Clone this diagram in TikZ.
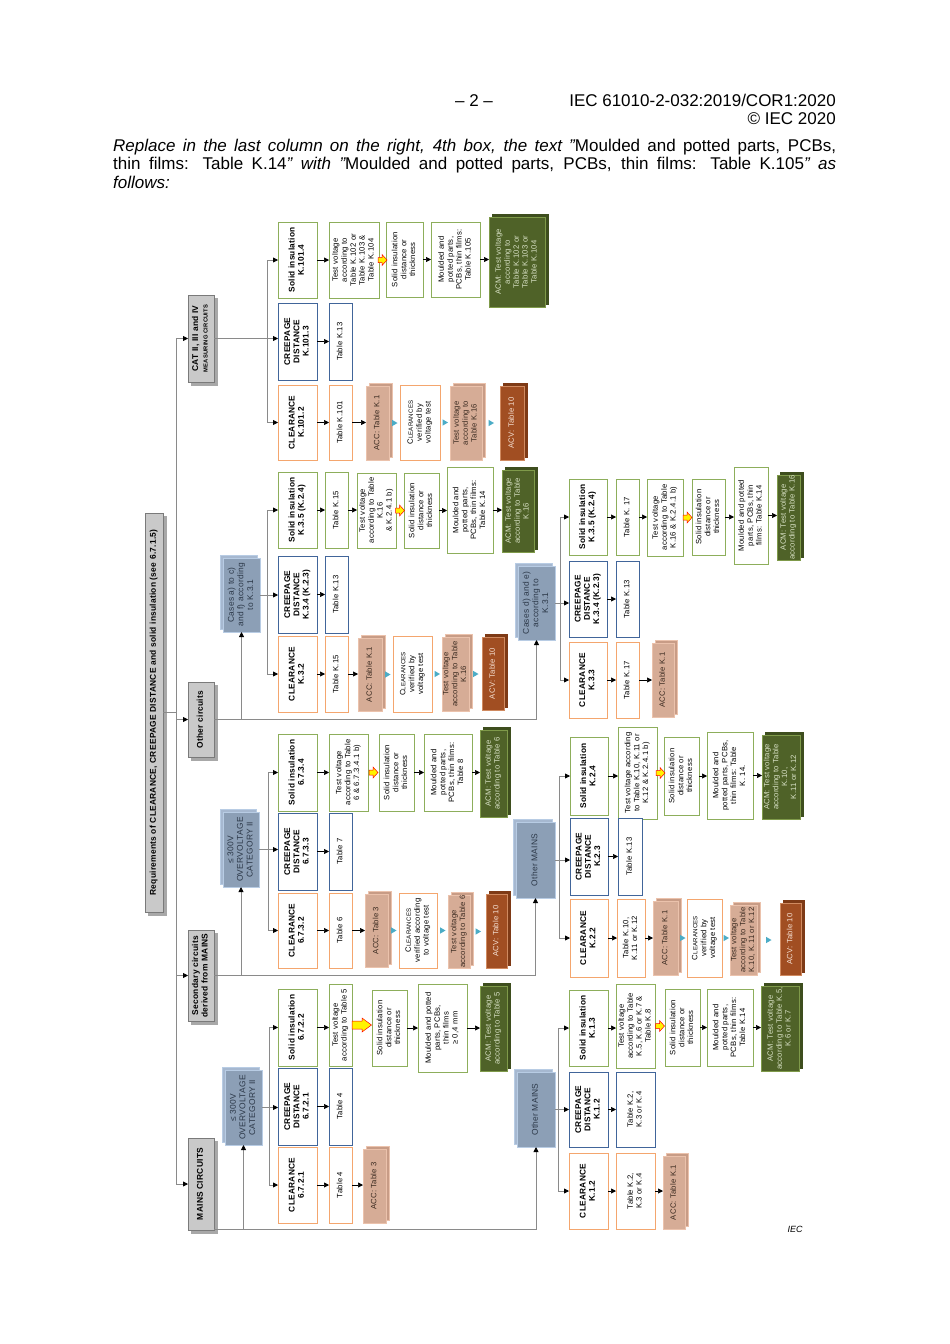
\documentclass[tikz,border=0pt]{standalone}
\usepackage{fontspec}
\setmainfont{Liberation Sans}
\newfontfamily\dgf[LetterSpace=3]{Liberation Sans}
\usepackage{graphicx}
\usetikzlibrary{arrows.meta,calc,shadows}

\definecolor{orB}{HTML}{F4A66E}
\definecolor{blB}{HTML}{41659A}
\definecolor{grB}{HTML}{8DAE5B}
\definecolor{accF}{HTML}{D6AC96}
\definecolor{accB}{HTML}{EBC2AC}
\definecolor{accS}{HTML}{C89C86}
\definecolor{accT}{HTML}{3A2A20}
\definecolor{acvF}{HTML}{A14E22}
\definecolor{acvB}{HTML}{D08A60}
\definecolor{acvS}{HTML}{7E3A16}
\definecolor{acvT}{HTML}{F5E0D3}
\definecolor{acmF}{HTML}{4F6228}
\definecolor{acmB}{HTML}{7F9A4A}
\definecolor{acmS}{HTML}{3E4E1E}
\definecolor{acmT}{HTML}{D8E1C5}
\definecolor{gyF}{HTML}{C9C9C9}
\definecolor{gyB}{HTML}{7A7A7A}
\definecolor{gyS}{HTML}{A8A8A8}
\definecolor{bgF}{HTML}{8C9FB6}
\definecolor{bgB}{HTML}{B8CCE4}
\definecolor{bgS}{HTML}{A6B8D0}
\definecolor{bgT}{HTML}{2C3848}
\definecolor{cyT}{HTML}{4BACC6}
\definecolor{lnC}{HTML}{8A8A8A}

\newcommand\rgf{\dgf\fontsize{7.7}{8.9}\selectfont}
\newcommand\bdf{\dgf\bfseries\fontsize{8.3}{9.2}\selectfont}
\newcommand\bgf{\dgf\fontsize{8.4}{9.6}\selectfont}
\newcommand\gyf{\dgf\bfseries\fontsize{8.4}{9.6}\selectfont}
\newcommand\rootf{\dgf\bfseries\fontsize{8.4}{9.4}\selectfont}
\newcommand\CL{C{\fontsize{6.1}{8.9}\selectfont LEARANCES}}

\newcommand\bx[7]{\node[#2, minimum width={(#5)-(#3)}, minimum height={(#6)-(#4)}] (#1) at ({((#3)+(#5))/2},{((#4)+(#6))/2}) {\rotatebox{90}{\begin{tabular}{@{}c@{}}#7\end{tabular}}};}
\newcommand\ka[2]{\draw[karr] (#1.east) -- (#1.east -| #2.west);}
\newcommand\cy[2]{\fill[cyT] ($(#1.east)!0.5!(#1.east -| #2.west)$) ++(-2.5,-3.2) -- ++(5.5,3.2) -- ++(-5.5,3.2) -- cycle;}
\newcommand\ya[2]{\filldraw[yarr] ($(#1.east)!0.5!(#1.east -| #2.west)$) ++(-4.5,-2.5) -- ++(4,0) -- ++(0,-3) -- ++(5,5.5) -- ++(-5,5.5) -- ++(0,-3) -- ++(-4,0) -- cycle;}

\tikzset{
 bxs/.style={inner sep=0pt, outer sep=0pt, line width=1pt, fill=white, font=\rgf},
 ob/.style={bxs, draw=orB},
 bb/.style={bxs, draw=blB},
 gb/.style={bxs, draw=grB},
 hd/.style={font=\bdf},
 acc/.style={bxs, draw=accB, fill=accF, text=accT, copy shadow={shadow xshift=3pt, shadow yshift=3pt, draw=accB, fill=accS}},
 acv/.style={bxs, draw=acvB, fill=acvF, text=acvT, copy shadow={shadow xshift=3pt, shadow yshift=3pt, draw=acvS, fill=acvS}},
 acm/.style={bxs, draw=acmB, fill=acmF, text=acmT, copy shadow={shadow xshift=3pt, shadow yshift=3pt, draw=acmS, fill=acmS}},
 gy/.style={bxs, draw=gyB, fill=gyF, font=\gyf, copy shadow={shadow xshift=3pt, shadow yshift=-3pt, draw=gyS, fill=gyS}},
 bg/.style={bxs, draw=bgB, fill=bgF, text=bgT, font=\bgf, copy shadow={shadow xshift=-3pt, shadow yshift=3pt, draw=bgB, fill=bgS}},
 gl/.style={draw=lnC, line width=0.8pt},
 tip/.style={-{Triangle[length=5pt,width=5pt,color=black]}},
 karr/.style={draw=black, line width=0.6pt, tip},
 yarr/.style={fill=yellow, draw=red, line width=0.5pt},
 hdr/.style={inner sep=0pt, font=\fontsize{17}{18.5}\selectfont},
}

\begin{document}
\begin{tikzpicture}[x=1pt,y=-1pt]
\useasboundingbox (0,0) rectangle (950,1344);
\fill[white] (0,0) rectangle (950,1344);

% ---------- page header ----------
\node[hdr, anchor=base] (pgno) at (474,106) {– 2 –};
\node[hdr, anchor=base east] (std) at (836,106) {IEC 61010-2-032:2019/COR1:2020};
\node[hdr, anchor=base east] (copy) at (836,124.5) {© IEC 2020};
\node[hdr, anchor=base west] (l1) at (113,151) {\parbox[b]{723pt}{\parfillskip=0pt \itshape Replace in the last column on the right, 4th box, the text "\upshape Moulded and potted parts, PCBs,}};
\node[hdr, anchor=base west] (l2) at (113,169.5) {\parbox[b]{723pt}{\parfillskip=0pt thin films: Table K.14\itshape" with "\upshape Moulded and potted parts, PCBs, thin films: Table K.105\itshape" as}};
\node[hdr, anchor=base west] (l3) at (113,188) {\itshape follows:};

% ---------- root and categories ----------
\bx{root}{gy,font=\rootf}{145}{513}{163}{912}{Requirements of CLEARANCE, CREEPAGE DISTANCE and solid insulation (see 6.7.1.5)}
\bx{cat}{gy}{188}{295}{214}{382}{CAT II, III and IV\\{\fontsize{5.8}{7}\selectfont MEASURING CIRCUITS}}
\bx{oc}{gy}{188}{682}{214}{757}{Other circuits}
\bx{sec}{gy}{188}{930}{214}{1021}{Secondary circuits\\derived from MAINS}
\bx{mains}{gy}{188}{1138}{214}{1230}{MAINS CIRCUITS}

\coordinate (spx) at (176,0);
\draw[gl] (spx |- cat) -- (spx |- mains);
\draw[gl] (root.east) -- (root -| spx);
\draw[gl,tip] (spx |- cat) -- (cat.west);
\draw[gl,tip] (spx |- oc) -- (oc.west);
\draw[gl,tip] (spx |- sec) -- (sec.west);
\draw[gl,tip] (spx |- mains) -- (mains.west);

% ---------- CAT II, III, IV ----------
\bx{c1si}{gb,hd}{278}{222}{317}{298}{Solid insulation\\K.101.4}
\bx{c1cr}{bb,hd}{278}{303}{317}{380}{CREEPAGE\\DISTANCE\\K.101.3}
\bx{c1cl}{ob,hd}{278}{385}{317}{460}{CLEARANCE\\K.101.2}
\bx{c1tv}{gb}{329}{222}{379}{298}{Test voltage\\according to\\Table K.102 or\\Table K.103 \&\\Table K.104}
\bx{c1t13}{bb}{329}{303}{352}{380}{Table K.13}
\bx{c1t101}{ob}{329}{385}{352}{460}{Table K.101}
\bx{c1sd}{gb}{386}{222}{423}{297}{Solid insulation\\distance or\\thickness}
\bx{c1acc}{acc}{366}{386}{389}{460}{ACC: Table K.1}
\bx{c1mp}{gb}{431}{222}{480}{297}{Moulded and\\potted parts,\\PCBs, thin films:\\Table K.105}
\bx{c1cv}{ob}{400}{385}{440}{460}{\CL\\verified by\\voltage test}
\bx{c1tv2}{acc}{450}{386}{482}{460}{Test voltage\\according to\\Table K.16}
\bx{c1acm}{acm}{489}{217}{545}{307}{ACM: Test voltage\\according to\\Table K.102 or\\Table K.103 or\\Table K.104}
\bx{c1acv}{acv}{500}{386}{524}{460}{ACV: Table 10}

\draw[gl,tip] (cat.east) -- (cat.east -| c1cr.west);
\coordinate (b1) at (267,0);
\draw[gl] (b1 |- c1si.west) -- (b1 |- c1cl.west);
\draw[gl,tip] (b1 |- c1si.west) -- (c1si.west);
\draw[gl,tip] (b1 |- c1cl.west) -- (c1cl.west);
\ka{c1si}{c1tv} \ya{c1tv}{c1sd} \ka{c1sd}{c1mp} \ka{c1mp}{c1acm}
\ka{c1cr}{c1t13}
\ka{c1cl}{c1t101} \ka{c1t101}{c1acc} \cy{c1acc}{c1cv} \cy{c1cv}{c1tv2} \cy{c1tv2}{c1acv}

% ---------- Other circuits: cases a) to c) ----------
\bx{cac}{bg}{223}{558}{260}{632}{Cases a) to c)\\and f) according\\to K.3.1}
\bx{asi}{gb,hd}{278}{472}{317}{548}{Solid insulation\\K.3.5 (K.2.4)}
\bx{acr}{bb,hd}{278}{556}{317}{633}{CREEPAGE\\DISTANCE\\K.3.4 (K.2.3)}
\bx{acl}{ob,hd}{278}{636}{317}{712}{CLEARANCE\\K.3.2}
\bx{at15g}{gb}{325}{472}{348}{548}{Table K.15}
\bx{at13}{bb}{325}{556}{348}{633}{Table K.13}
\bx{at15o}{ob}{325}{636}{348}{712}{Table K.15}
\bx{atv}{gb}{357}{473}{396}{548}{Test voltage\\according to Table\\K.16\\\& K.2.4.1 b)}
\bx{aacc}{acc}{358}{638}{382}{711}{ACC: Table K.1}
\bx{asd}{gb}{404}{473}{439}{548}{Solid insulation\\distance or\\thickness}
\bx{acv}{ob}{393}{636}{432}{712}{\CL\\verified by\\voltage test}
\bx{amp}{gb}{447}{467}{493}{553}{Moulded and\\potted parts,\\PCBs, thin films:\\Table K.14}
\bx{atv2}{acc}{442}{637}{469}{711}{Test voltage\\according to Table\\K.16}
\bx{aacm}{acm}{502}{470}{534}{552}{ACM: Test voltage\\according to Table\\K.16}
\bx{aacv}{acv}{482}{637}{504}{710}{ACV: Table 10}

\draw[gl,tip] (oc.east -| cac.south) -- (cac.south);
\draw[gl,tip] (cac.east) -- (cac.east -| acr.west);
\coordinate (b2) at (267,0);
\draw[gl] (b2 |- asi.west) -- (b2 |- acl.west);
\draw[gl,tip] (b2 |- asi.west) -- (asi.west);
\draw[gl,tip] (b2 |- acl.west) -- (acl.west);
\ka{asi}{at15g} \ka{at15g}{atv} \ya{atv}{asd} \ka{asd}{amp} \ka{amp}{aacm}
\ka{acr}{at13}
\ka{acl}{at15o} \ka{at15o}{aacc} \cy{aacc}{acv} \cy{acv}{atv2} \cy{atv2}{aacv}

% ---------- Other circuits: cases d) and e) ----------
\bx{cde}{bg}{518}{566}{555}{640}{Cases d) and e)\\according to\\K.3.1}
\bx{dsi}{gb,hd}{569}{479}{607}{555}{Solid insulation\\K.3.5 (K.2.4)}
\bx{dcr}{bb,hd}{569}{561}{607}{637}{CREEPAGE\\DISTANCE\\K.3.4 (K.2.3)}
\bx{dcl}{ob,hd}{569}{642}{607}{718}{CLEARANCE\\K.3.3}
\bx{dt17g}{gb}{616}{479}{639}{555}{Table K. 17}
\bx{dt13}{bb}{616}{561}{639}{637}{Table K.13}
\bx{dt17o}{ob}{616}{642}{639}{718}{Table K.17}
\bx{dtv}{gb}{647}{479}{683}{556}{Test voltage\\according to Table\\K.16 \& K.2.4.1 b)}
\bx{dacc}{acc}{652}{643}{674}{717}{ACC: Table K.1}
\bx{dsd}{gb}{692}{479}{725}{555}{Solid insulation\\distance or\\thickness}
\bx{dmp}{gb}{734}{467}{768}{564}{Moulded and potted\\parts, PCBs, thin\\films: Table K.14}
\bx{dacm}{acm}{777}{475}{800}{560}{ACM: Test voltage\\according to Table K.16}

\draw[gl,tip] (oc.east) -| (cde.south);
\draw[gl,tip] (cde.east) -- (cde.east -| dcr.west);
\coordinate (b3) at (560,0);
\draw[gl] (b3 |- dsi.west) -- (b3 |- dcl.west);
\draw[gl,tip] (b3 |- dsi.west) -- (dsi.west);
\draw[gl,tip] (b3 |- dcl.west) -- (dcl.west);
\ka{dsi}{dt17g} \ka{dt17g}{dtv} \ya{dtv}{dsd} \ka{dsd}{dmp} \ka{dmp}{dacm}
\ka{dcr}{dt13}
\ka{dcl}{dt17o} \ka{dt17o}{dacc}

% ---------- Secondary circuits: <= 300 V ----------
\bx{ov2}{bg}{223}{812}{259}{887}{≤ 300V\\OVERVOLTAGE\\CATEGORY II}
\bx{ssi}{gb,hd}{278}{734}{317}{811}{Solid insulation\\6.7.3.4}
\bx{scr}{bb,hd}{278}{813}{317}{890}{CREEPAGE\\DISTANCE\\6.7.3.3}
\bx{scl}{ob,hd}{278}{893}{317}{968}{CLEARANCE\\6.7.3.2}
\bx{stv}{gb}{329}{734}{368}{811}{Test voltage\\according to Table\\6 \& 6.7.3.4.1 b)}
\bx{st7}{bb}{329}{813}{352}{890}{Table 7}
\bx{st6}{ob}{329}{893}{352}{968}{Table 6}
\bx{ssd}{gb}{379}{734}{414}{811}{Solid insulation\\distance or\\thickness}
\bx{sacc}{acc}{365}{894}{388}{967}{ACC: Table 3}
\bx{smp}{gb}{424}{734}{472}{811}{Moulded and\\potted parts,\\PCBs, thin films:\\Table 8}
\bx{scv}{ob}{399}{893}{437}{968}{\CL\\verified according\\to voltage test}
\bx{sacm}{acm}{480}{730}{507}{817}{ACM: Test voltage\\according to Table 6}
\bx{stv2}{acc}{448}{895}{470}{968}{Test voltage\\according to Table 6}
\bx{sacv}{acv}{486}{894}{507}{968}{ACV: Table 10}

\draw[gl,tip] (sec.east -| ov2.south) -- (ov2.south);
\draw[gl,tip] (ov2.east) -- (ov2.east -| scr.west);
\coordinate (b4) at (268,0);
\draw[gl] (b4 |- ssi.west) -- (b4 |- scl.west);
\draw[gl,tip] (b4 |- ssi.west) -- (ssi.west);
\draw[gl,tip] (b4 |- scl.west) -- (scl.west);
\ka{ssi}{stv} \ya{stv}{ssd} \ka{ssd}{smp} \ka{smp}{sacm}
\ka{scr}{st7}
\ka{scl}{st6} \ka{st6}{sacc} \cy{sacc}{scv} \cy{scv}{stv2} \cy{stv2}{sacv}

% ---------- Secondary circuits: other MAINS ----------
\bx{om1}{bg}{516}{822}{555}{898}{Other MAINS}
\bx{usi}{gb,hd}{570}{737}{608}{815}{Solid insulation\\K.2.4}
\bx{ucr}{bb,hd}{570}{818}{608}{895}{CREEPAGE\\DISTANCE\\K.2.3}
\bx{ucl}{ob,hd}{570}{899}{608}{977}{CLEARANCE\\K.2.2}
\bx{utv}{gb}{618}{727}{657}{819}{Test voltage according\\to Table K.10, K.11 or\\K.12 \& K.2.4.1 b)}
\bx{ut13}{bb}{618}{818}{642}{895}{Table K.13}
\bx{ut10}{ob}{617}{899}{645}{977}{Table K.10,\\K.11 or K.12}
\bx{usd}{gb}{664}{737}{699}{815}{Solid insulation\\distance or\\thickness}
\bx{uacc}{acc}{653}{901}{678}{975}{ACC: Table K.1}
\bx{ump}{gb}{707}{732}{753}{819}{Moulded and\\potted parts, PCBs,\\thin films: Table\\K. 14.}
\bx{ucv}{ob}{687}{899}{722}{977}{\CL\\verified by\\voltage test}
\bx{uacm}{acm}{762}{735}{800}{819}{ACM: Test voltage\\according to Table\\K.10,\\K.11 or K.12}
\bx{utv2}{acc}{730}{905}{757}{975}{Test voltage\\according to Table\\K.10, K.11 or K.12}
\bx{uacv}{acv}{780}{903}{801}{975}{ACV: Table 10}

\draw[gl,tip] (sec.east) -| (om1.south);
\draw[gl,tip] (om1.east) -- (om1.east -| ucr.west);
\coordinate (b5) at (559,0);
\draw[gl] (b5 |- usi.west) -- (b5 |- ucl.west);
\draw[gl,tip] (b5 |- usi.west) -- (usi.west);
\draw[gl,tip] (b5 |- ucl.west) -- (ucl.west);
\ka{usi}{utv} \ya{utv}{usd} \ka{usd}{ump} \ka{ump}{uacm}
\ka{ucr}{ut13}
\ka{ucl}{ut10} \ka{ut10}{uacc} \cy{uacc}{ucv} \cy{ucv}{utv2} \cy{utv2}{uacv}

% ---------- MAINS circuits: <= 300 V ----------
\bx{ov1}{bg}{225}{1070}{262}{1145}{≤ 300V\\OVERVOLTAGE\\CATEGORY II}
\bx{msi}{gb,hd}{278}{989}{317}{1066}{Solid insulation\\6.7.2.2}
\bx{mcr}{bb,hd}{278}{1068}{317}{1145}{CREEPAGE\\DISTANCE\\6.7.2.1}
\bx{mcl}{ob,hd}{278}{1147}{317}{1223}{CLEARANCE\\6.7.2.1}
\bx{mtv}{gb}{329}{984}{352}{1066}{Test voltage\\according to Table 5}
\bx{mt4b}{bb}{329}{1068}{352}{1145}{Table 4}
\bx{mt4o}{ob}{329}{1147}{352}{1223}{Table 4}
\bx{msd}{gb}{372}{990}{407}{1066}{Solid insulation\\distance or\\thickness}
\bx{macc}{acc}{363}{1149}{386}{1223}{ACC: Table 3}
\bx{mmp}{gb}{418}{984}{467}{1072}{Moulded and potted\\parts, PCBs,\\thin films\\≥ 0,4 mm}
\bx{macm}{acm}{480}{986}{507}{1071}{ACM: Test voltage\\according to Table 5}

\path (mains.east) ++(0,45) coordinate (mo);
\draw[gl] (mains.east |- mo) -- (mo);
\draw[gl,tip] (mo -| ov1.south) -- (ov1.south);
\draw[gl,tip] (ov1.east) -- (ov1.east -| mcr.west);
\coordinate (b6) at (269,0);
\draw[gl] (b6 |- msi.west) -- (b6 |- mcl.west);
\draw[gl,tip] (b6 |- msi.west) -- (msi.west);
\draw[gl,tip] (b6 |- mcl.west) -- (mcl.west);
\ka{msi}{mtv}
\filldraw[yarr] (mtv.east) ++(0,-4) -- ++(10,0) -- ++(0,-3) -- ++(9.5,7) -- ++(-9.5,7) -- ++(0,-3) -- ++(-10,0) -- cycle;
\ka{msd}{mmp} \ka{mmp}{macm}
\ka{mcr}{mt4b}
\ka{mcl}{mt4o} \ka{mt4o}{macc}

% ---------- MAINS circuits: other MAINS ----------
\bx{om2}{bg}{517}{1072}{555}{1147}{Other MAINS}
\bx{lsi}{gb,hd}{569}{990}{608}{1066}{Solid insulation\\K.1.3}
\bx{lcr}{bb,hd}{569}{1072}{608}{1147}{CREEPAGE\\DISTANCE\\K.1.2}
\bx{lcl}{ob,hd}{569}{1153}{608}{1229}{CLEARANCE\\K.1.2}
\bx{ltv}{gb}{616}{984}{655}{1068}{Test voltage\\according to Table\\K.5, K.6 or K.7 \&\\Table K.8}
\bx{lt2b}{bb}{616}{1072}{655}{1147}{Table K.2,\\K.3 or K.4}
\bx{lt2o}{ob}{616}{1153}{655}{1229}{Table K.2,\\K.3 or K.4}
\bx{lsd}{gb}{665}{989}{700}{1066}{Solid insulation\\distance or\\thickness}
\bx{lacc}{acc}{663}{1156}{685}{1229}{ACC: Table K.1}
\bx{lmp}{gb}{707}{989}{753}{1066}{Moulded and\\potted parts,\\PCBs, thin films:\\Table K.14}
\bx{lacm}{acm}{761}{986}{799}{1071}{ACM: Test voltage\\according to Table K.5,\\K.6 or K.7}

\draw[gl,tip] (mo) -| (om2.south);
\draw[gl,tip] (om2.east) -- (om2.east -| lcr.west);
\coordinate (b7) at (558,0);
\draw[gl] (b7 |- lsi.west) -- (b7 |- lcl.west);
\draw[gl,tip] (b7 |- lsi.west) -- (lsi.west);
\draw[gl,tip] (b7 |- lcl.west) -- (lcl.west);
\ka{lsi}{ltv} \ya{ltv}{lsd} \ka{lsd}{lmp} \ka{lmp}{lacm}
\ka{lcr}{lt2b}
\ka{lcl}{lt2o} \ka{lt2o}{lacc}

\node[inner sep=0pt, font=\fontsize{9}{10}\selectfont\itshape] (iec) at (795,1229) {IEC};
\end{tikzpicture}
\end{document}
